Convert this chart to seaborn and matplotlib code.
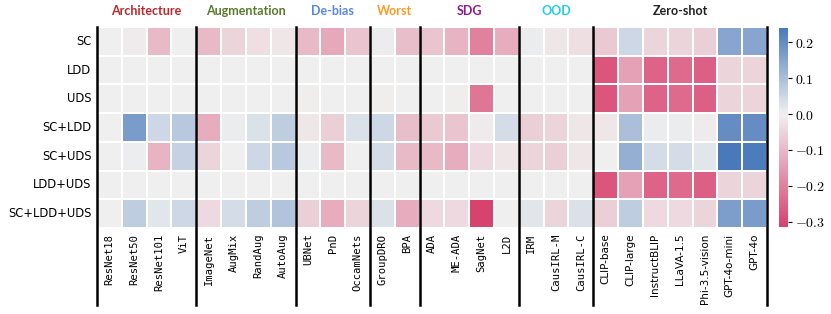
import numpy as np
import pandas as pd
import matplotlib
matplotlib.use("Agg")
import matplotlib.pyplot as plt
import seaborn as sns
from matplotlib.colors import LinearSegmentedColormap

rows = ["SC", "LDD", "UDS", "SC+LDD", "SC+UDS", "LDD+UDS", "SC+LDD+UDS"]
columns = ["ResNet18", "ResNet50", "ResNet101", "ViT",
           "ImageNet", "AugMix", "RandAug", "AutoAug",
           "UBNet", "PnD", "OccamNets",
           "GroupDRO", "BPA",
           "ADA", "ME-ADA", "SagNet", "L2D",
           "IRM", "CausIRL-M", "CausIRL-C",
           "CLIP-base", "CLIP-large", "InstructBLIP", "LLaVA-1.5",
           "Phi-3.5-vision", "GPT-4o-mini", "GPT-4o"]
groups = ["Architecture", "Augmentation", "De-bias", "Worst", "SDG", "OOD", "Zero-shot"]
group_sizes = [4, 4, 3, 2, 4, 3, 7]
group_colors = ["#b8282e", "#5b7a2f", "#5b86e5", "#ff9922", "#8e1a8e", "#22d0d8", "#222222"]

row_SC = [0.0, -0.01, -0.10, 0.0, -0.10, -0.05, -0.03, -0.02, -0.10, -0.13, -0.08,
          0.01, -0.09, -0.08, -0.11, -0.20, -0.12, 0.01, -0.02, -0.03,
          -0.07, 0.05, -0.05, -0.05, -0.06, 0.15, 0.15]
row_LDD = [0.0, 0.0, 0.0, 0.0, 0.0, 0.0, 0.0, 0.0, 0.0, 0.0, 0.0,
           0.0, 0.0, 0.0, 0.0, 0.0, 0.0, 0.0, 0.0, 0.0,
           -0.28, -0.14, -0.25, -0.24, -0.26, -0.05, -0.05]
row_UDS = [0.0, 0.0, 0.0, 0.0, 0.0, 0.0, 0.0, 0.0, -0.005, 0.0, 0.0,
           -0.005, 0.0, 0.0, -0.005, -0.22, 0.0, 0.0, 0.0, 0.0,
           -0.28, -0.14, -0.25, -0.24, -0.26, -0.05, -0.05]
row_SC_LDD = [0.0, 0.17, 0.05, 0.08, -0.12, 0.01, 0.03, 0.07, -0.02, -0.06, 0.03,
              0.05, -0.09, -0.07, -0.08, -0.01, 0.04, -0.06, -0.05, -0.02,
              -0.02, 0.10, 0.01, 0.01, -0.01, 0.20, 0.20]
row_SC_UDS = [0.0, 0.005, -0.11, 0.06, -0.05, 0.0, 0.05, 0.08, 0.005, -0.10, 0.0,
              0.04, -0.10, -0.10, -0.12, -0.04, -0.02, -0.05, -0.06, -0.02,
              0.0, 0.13, 0.04, 0.04, 0.02, 0.24, 0.235]
row_LDD_UDS = [0.0, 0.0, 0.0, 0.0, 0.0, 0.0, 0.0, 0.0, 0.0, 0.0, 0.0,
               0.0, 0.0, 0.0, 0.0, 0.0, 0.0, 0.0, 0.0, 0.0,
               -0.28, -0.14, -0.25, -0.24, -0.26, -0.05, -0.05]
row_SC_LDD_UDS = [0.0, 0.07, 0.02, 0.05, -0.04, 0.04, 0.07, 0.09, -0.06, -0.12, -0.05,
                  0.03, -0.12, -0.04, -0.04, -0.315, 0.0, 0.02, -0.05, 0.03,
                  -0.06, 0.07, -0.04, -0.04, -0.05, 0.165, 0.17]

data = pd.DataFrame([row_SC, row_LDD, row_UDS, row_SC_LDD, row_SC_UDS,
                     row_LDD_UDS, row_SC_LDD_UDS], index=rows, columns=columns)

plt.rcParams["mathtext.fontset"] = "cm"
fig = plt.figure(figsize=(8.31, 3.14), dpi=100)
ax = fig.add_axes([97 / 831, 1 - 228 / 314, 670 / 831, 201 / 314])
cax = fig.add_axes([779 / 831, 1 - 227 / 314, 9 / 831, 199 / 314])

cmap = LinearSegmentedColormap.from_list("pinkblue", ["#d8426f", "#f0f0f0", "#1655aa"])
sns.heatmap(data, ax=ax, cbar_ax=cax, cmap=cmap, center=0, vmin=-0.315, vmax=0.24,
            linewidths=1.2, linecolor="white")

ax.set_xticks(np.arange(len(columns)) + 0.5)
ax.set_xticklabels(columns, rotation=90)
ax.tick_params(axis="both", length=0, pad=4)
n_mono = sum(group_sizes[:-1])
for i, lab in enumerate(ax.get_xticklabels()):
    if i < n_mono:
        lab.set_fontfamily("DejaVu Sans Mono")
        lab.set_fontsize(7.6)
    else:
        lab.set_fontfamily("DejaVu Sans")
        lab.set_fontsize(7.5)
ax.set_yticklabels(rows, rotation=0, fontsize=8.3, family="DejaVu Sans")

bounds = np.concatenate([[0], np.cumsum(group_sizes)])
for b in bounds:
    ax.axvline(b, ymin=-0.385, ymax=1.0, color="black", lw=1.8, clip_on=False)
for g, c, s, e in zip(groups, group_colors, bounds[:-1], bounds[1:]):
    ax.text((s + e) / 2, -0.55, g, ha="center", va="center", color=c,
            fontsize=9, fontweight="bold", family="Lato")

cbar = ax.collections[0].colorbar
ticks = [-0.3, -0.2, -0.1, 0.0, 0.1, 0.2]
cbar.set_ticks(ticks)
cbar.set_ticklabels([r"$%.1f$" % t for t in ticks])
cbar.ax.tick_params(labelsize=10, length=3, width=0.8, pad=2)
cbar.outline.set_visible(False)

fig.savefig("out.png", dpi=100)
